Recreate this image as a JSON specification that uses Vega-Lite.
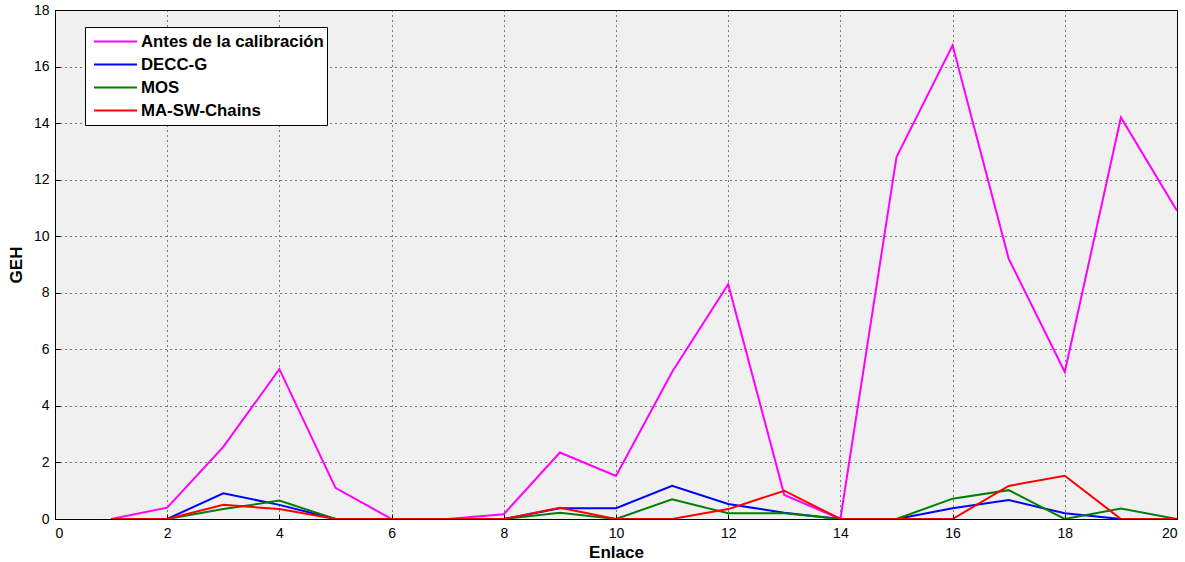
{
  "$schema": "https://vega.github.io/schema/vega-lite/v6.json",
  "width": 1122,
  "height": 509,
  "autosize": {"type": "none"},
  "padding": {"left": 55, "top": 10, "right": 8, "bottom": 43},
  "background": "white",
  "config": {
    "view": {"fill": "#f0f0f0", "stroke": "black", "strokeWidth": 1},
    "font": "Liberation Sans"
  },
  "data": {
    "values": [
      {"enlace": 1, "metodo": "Antes de la calibración", "geh": 0},
      {"enlace": 2, "metodo": "Antes de la calibración", "geh": 0.4},
      {"enlace": 3, "metodo": "Antes de la calibración", "geh": 2.55},
      {"enlace": 4, "metodo": "Antes de la calibración", "geh": 5.3},
      {"enlace": 5, "metodo": "Antes de la calibración", "geh": 1.1},
      {"enlace": 6, "metodo": "Antes de la calibración", "geh": 0},
      {"enlace": 7, "metodo": "Antes de la calibración", "geh": 0},
      {"enlace": 8, "metodo": "Antes de la calibración", "geh": 0.17},
      {"enlace": 9, "metodo": "Antes de la calibración", "geh": 2.35},
      {"enlace": 10, "metodo": "Antes de la calibración", "geh": 1.52},
      {"enlace": 11, "metodo": "Antes de la calibración", "geh": 5.2},
      {"enlace": 12, "metodo": "Antes de la calibración", "geh": 8.3},
      {"enlace": 13, "metodo": "Antes de la calibración", "geh": 0.85},
      {"enlace": 14, "metodo": "Antes de la calibración", "geh": 0},
      {"enlace": 15, "metodo": "Antes de la calibración", "geh": 12.8},
      {"enlace": 16, "metodo": "Antes de la calibración", "geh": 16.75},
      {"enlace": 17, "metodo": "Antes de la calibración", "geh": 9.2},
      {"enlace": 18, "metodo": "Antes de la calibración", "geh": 5.2},
      {"enlace": 19, "metodo": "Antes de la calibración", "geh": 14.2},
      {"enlace": 20, "metodo": "Antes de la calibración", "geh": 10.9},
      {"enlace": 1, "metodo": "DECC-G", "geh": 0},
      {"enlace": 2, "metodo": "DECC-G", "geh": 0},
      {"enlace": 3, "metodo": "DECC-G", "geh": 0.91},
      {"enlace": 4, "metodo": "DECC-G", "geh": 0.5},
      {"enlace": 5, "metodo": "DECC-G", "geh": 0},
      {"enlace": 6, "metodo": "DECC-G", "geh": 0},
      {"enlace": 7, "metodo": "DECC-G", "geh": 0},
      {"enlace": 8, "metodo": "DECC-G", "geh": 0},
      {"enlace": 9, "metodo": "DECC-G", "geh": 0.38},
      {"enlace": 10, "metodo": "DECC-G", "geh": 0.38},
      {"enlace": 11, "metodo": "DECC-G", "geh": 1.17},
      {"enlace": 12, "metodo": "DECC-G", "geh": 0.53},
      {"enlace": 13, "metodo": "DECC-G", "geh": 0.22},
      {"enlace": 14, "metodo": "DECC-G", "geh": 0},
      {"enlace": 15, "metodo": "DECC-G", "geh": 0},
      {"enlace": 16, "metodo": "DECC-G", "geh": 0.38},
      {"enlace": 17, "metodo": "DECC-G", "geh": 0.67},
      {"enlace": 18, "metodo": "DECC-G", "geh": 0.2},
      {"enlace": 19, "metodo": "DECC-G", "geh": 0},
      {"enlace": 20, "metodo": "DECC-G", "geh": 0},
      {"enlace": 1, "metodo": "MOS", "geh": 0},
      {"enlace": 2, "metodo": "MOS", "geh": 0},
      {"enlace": 3, "metodo": "MOS", "geh": 0.35},
      {"enlace": 4, "metodo": "MOS", "geh": 0.65},
      {"enlace": 5, "metodo": "MOS", "geh": 0},
      {"enlace": 6, "metodo": "MOS", "geh": 0},
      {"enlace": 7, "metodo": "MOS", "geh": 0},
      {"enlace": 8, "metodo": "MOS", "geh": 0},
      {"enlace": 9, "metodo": "MOS", "geh": 0.22},
      {"enlace": 10, "metodo": "MOS", "geh": 0},
      {"enlace": 11, "metodo": "MOS", "geh": 0.7},
      {"enlace": 12, "metodo": "MOS", "geh": 0.2},
      {"enlace": 13, "metodo": "MOS", "geh": 0.2},
      {"enlace": 14, "metodo": "MOS", "geh": 0},
      {"enlace": 15, "metodo": "MOS", "geh": 0},
      {"enlace": 16, "metodo": "MOS", "geh": 0.72},
      {"enlace": 17, "metodo": "MOS", "geh": 1.02},
      {"enlace": 18, "metodo": "MOS", "geh": 0},
      {"enlace": 19, "metodo": "MOS", "geh": 0.37},
      {"enlace": 20, "metodo": "MOS", "geh": 0},
      {"enlace": 1, "metodo": "MA-SW-Chains", "geh": 0},
      {"enlace": 2, "metodo": "MA-SW-Chains", "geh": 0},
      {"enlace": 3, "metodo": "MA-SW-Chains", "geh": 0.5},
      {"enlace": 4, "metodo": "MA-SW-Chains", "geh": 0.35},
      {"enlace": 5, "metodo": "MA-SW-Chains", "geh": 0},
      {"enlace": 6, "metodo": "MA-SW-Chains", "geh": 0},
      {"enlace": 7, "metodo": "MA-SW-Chains", "geh": 0},
      {"enlace": 8, "metodo": "MA-SW-Chains", "geh": 0},
      {"enlace": 9, "metodo": "MA-SW-Chains", "geh": 0.4},
      {"enlace": 10, "metodo": "MA-SW-Chains", "geh": 0},
      {"enlace": 11, "metodo": "MA-SW-Chains", "geh": 0},
      {"enlace": 12, "metodo": "MA-SW-Chains", "geh": 0.35},
      {"enlace": 13, "metodo": "MA-SW-Chains", "geh": 1.0},
      {"enlace": 14, "metodo": "MA-SW-Chains", "geh": 0},
      {"enlace": 15, "metodo": "MA-SW-Chains", "geh": 0},
      {"enlace": 16, "metodo": "MA-SW-Chains", "geh": 0},
      {"enlace": 17, "metodo": "MA-SW-Chains", "geh": 1.17},
      {"enlace": 18, "metodo": "MA-SW-Chains", "geh": 1.53},
      {"enlace": 19, "metodo": "MA-SW-Chains", "geh": 0},
      {"enlace": 20, "metodo": "MA-SW-Chains", "geh": 0}
    ]
  },
  "layer": [
    {
      "mark": {"type": "line", "strokeWidth": 2, "clip": true},
      "encoding": {
        "x": {
          "field": "enlace", "type": "quantitative",
          "scale": {"domain": [0, 20], "nice": false, "zero": false},
          "axis": {
            "title": "Enlace", "titleFontSize": 17, "titleFontWeight": "bold", "titleColor": "black",
            "titlePadding": 4,
            "values": [0, 2, 4, 6, 8, 10, 12, 14, 16, 18, 20],
            "labelFontSize": 14, "labelColor": "black", "labelPadding": 12,
            "tickSize": -5, "tickColor": "black", "domain": false,
            "grid": true, "gridColor": "black", "gridDash": [1, 4], "gridOpacity": 1, "gridWidth": 1
          }
        },
        "y": {
          "field": "geh", "type": "quantitative",
          "scale": {"domain": [0, 18], "nice": false},
          "axis": {
            "title": "GEH", "titleFontSize": 17, "titleFontWeight": "bold", "titleColor": "black",
            "titlePadding": 8,
            "values": [0, 2, 4, 6, 8, 10, 12, 14, 16, 18],
            "labelFontSize": 14, "labelColor": "black", "labelPadding": 11,
            "tickSize": -5, "tickColor": "black", "domain": false,
            "grid": true, "gridColor": "black", "gridDash": [1, 4], "gridOpacity": 1, "gridWidth": 1
          }
        },
        "color": {
          "field": "metodo", "type": "nominal",
          "sort": ["Antes de la calibración", "DECC-G", "MOS", "MA-SW-Chains"],
          "scale": {
            "domain": ["Antes de la calibración", "DECC-G", "MOS", "MA-SW-Chains"],
            "range": ["#ff00ff", "#0000ff", "#008000", "#ff0000"]
          },
          "legend": {
            "title": null, "orient": "none", "legendX": 30, "legendY": 17,
            "fillColor": "white", "strokeColor": "black", "padding": 3,
            "symbolType": "stroke", "symbolSize": 1849, "symbolStrokeWidth": 2, "symbolOffset": 5,
            "labelFontSize": 16.8, "labelFontWeight": "bold", "labelColor": "black",
            "clipHeight": 23, "rowPadding": 0, "labelOffset": 3, "labelLimit": 300
          }
        },
        "order": {"field": "enlace", "type": "quantitative"}
      }
    }
  ]
}
